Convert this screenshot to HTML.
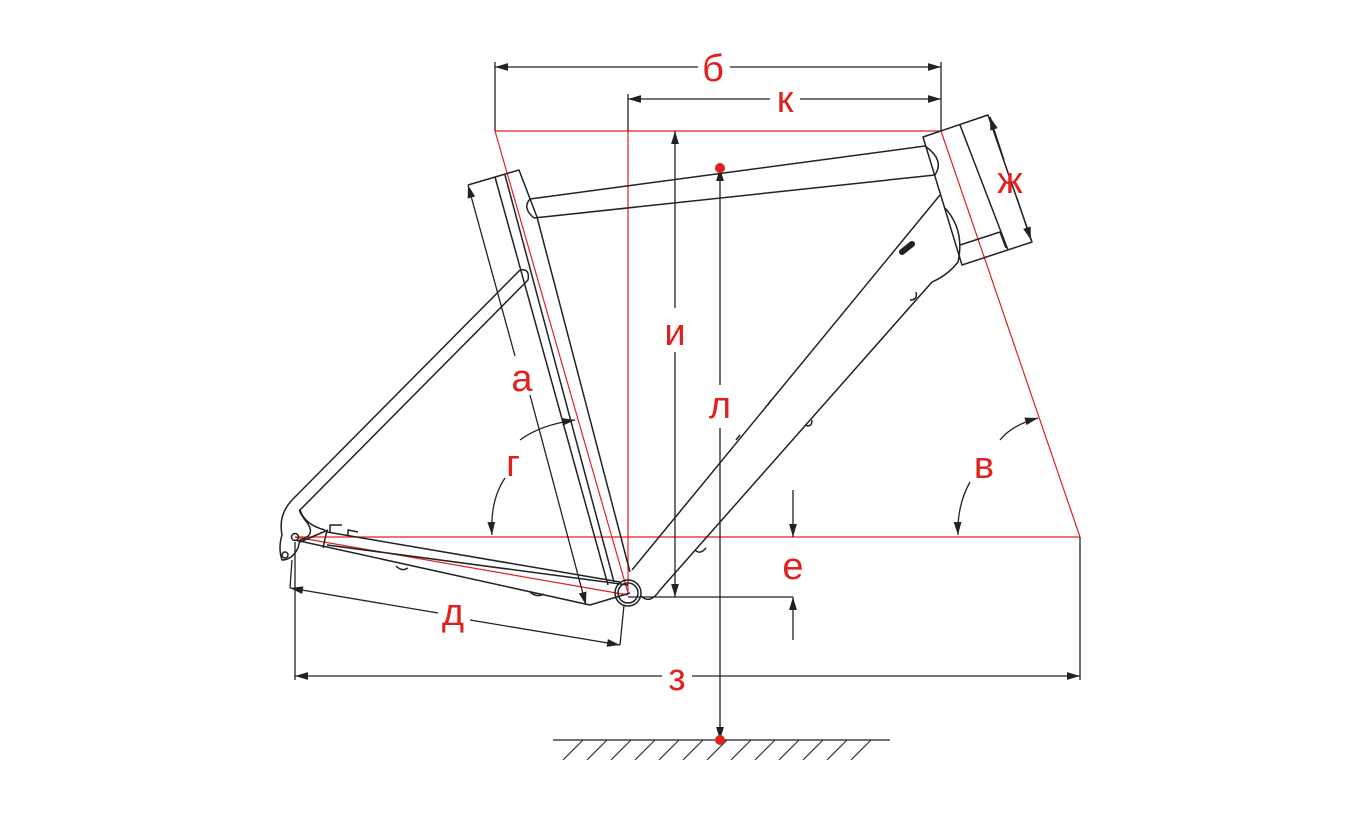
<!DOCTYPE html>
<html><head><meta charset="utf-8"><style>html,body{margin:0;padding:0;background:#fff}svg{display:block}</style></head><body>
<svg width="1360" height="827" viewBox="0 0 1360 827" xmlns="http://www.w3.org/2000/svg" font-family="Liberation Sans, DejaVu Sans, sans-serif">
<defs>
<marker id="a" viewBox="0 0 10 10" refX="10" refY="5" markerWidth="10" markerHeight="10" orient="auto-start-reverse"><path d="M0,2 L10,5 L0,8 z" fill="#222"/></marker>
</defs>
<g stroke="#e0221f" stroke-width="1.2" fill="none">
<line x1="495" y1="131" x2="941" y2="131"/>
<line x1="495" y1="131" x2="628" y2="593"/>
<line x1="628" y1="131" x2="628" y2="593"/>
<line x1="941" y1="131" x2="1080" y2="537"/>
<line x1="295" y1="537" x2="1080" y2="537"/>
<line x1="295" y1="537" x2="628" y2="595"/>
</g>
<g stroke="#222" stroke-width="1.5" fill="none" stroke-linejoin="round">
<polyline points="468,185 519,170 537,217 630,572"/>
<line x1="495" y1="177" x2="608" y2="585"/>
<line x1="505" y1="175" x2="614" y2="582"/>
<path d="M530,199 L925,146 M534,218 L935,175 M530,199 Q522,208 534,218"/>
<path d="M925,146 Q945,160 935,175"/>
<polygon points="923,137 988,115 1032,242 962,265"/>
<line x1="960" y1="125" x2="1008" y2="250"/>
<path d="M960,245 L1000,232 L1006,248"/>
<path d="M940,195 L632,570 M945,208 Q965,230 958,262 Q948,275 932,282 L660,590"/>
<path d="M902,252 L912,244" stroke-width="6" stroke-linecap="round"/>
<path d="M520,270 L292,500 M528,280 L300,510 M520,270 Q530,268 528,280"/>
<path d="M292,500 Q278,515 282,535 Q278,548 282,560 Q292,560 298,548 L300,540 Q318,535 305,520 Q298,510 300,510 M300,510 Q305,525 325,530"/>
<circle cx="295" cy="537" r="3.5"/>
<circle cx="285" cy="555" r="3"/>
<path d="M295,540 L590,605 L630,593 M327,545 L628,585 M327,530 L323,548 M300,542 L328,530"/>
<path d="M327,532 L620,582"/>
<path d="M330,532 L330,525 L342,525 M348,535 L348,530 L358,532"/>
<path d="M396,566 Q402,572 408,568 M530,592 Q537,598 544,594 M695,550 Q700,555 706,548 M805,425 Q812,428 812,420 M910,300 Q918,300 916,292 M736,440 L740,435 M768,405 L771,400"/>
<circle cx="628" cy="593" r="13"/>
<circle cx="628" cy="593" r="10"/>
<path d="M641,596 Q650,605 660,590"/>
</g>
<g stroke="#222" stroke-width="1.3" fill="none">
<line x1="495" y1="62" x2="495" y2="131"/>
<line x1="941" y1="62" x2="941" y2="131"/>
<line x1="628" y1="94" x2="628" y2="131"/>
<line x1="495" y1="67" x2="698" y2="67" marker-start="url(#a)"/>
<line x1="730" y1="67" x2="941" y2="67" marker-end="url(#a)"/>
<line x1="628" y1="99" x2="770" y2="99" marker-start="url(#a)"/>
<line x1="800" y1="99" x2="941" y2="99" marker-end="url(#a)"/>
<line x1="675" y1="131" x2="675" y2="308" marker-start="url(#a)"/>
<line x1="675" y1="352" x2="675" y2="597" marker-end="url(#a)"/>
<line x1="720" y1="168" x2="720" y2="385" marker-start="url(#a)"/>
<line x1="720" y1="428" x2="720" y2="740" marker-end="url(#a)"/>
<line x1="628" y1="597" x2="793" y2="597"/>
<line x1="793" y1="490" x2="793" y2="537" marker-end="url(#a)"/>
<line x1="793" y1="640" x2="793" y2="597" marker-end="url(#a)"/>
<line x1="295" y1="542" x2="295" y2="680"/>
<line x1="1080" y1="537" x2="1080" y2="680"/>
<line x1="295" y1="676" x2="662" y2="676" marker-start="url(#a)"/>
<line x1="692" y1="676" x2="1080" y2="676" marker-end="url(#a)"/>
<line x1="290" y1="588" x2="438" y2="613" marker-start="url(#a)"/>
<line x1="470" y1="620" x2="620" y2="645" marker-end="url(#a)"/>
<line x1="620" y1="645" x2="624" y2="605"/>
<line x1="290" y1="588" x2="292" y2="560"/>
<line x1="468" y1="185" x2="515" y2="356" marker-start="url(#a)"/>
<line x1="530" y1="395" x2="586" y2="605" marker-end="url(#a)"/>
<line x1="990" y1="117" x2="1004" y2="160" marker-start="url(#a)"/>
<line x1="1017" y1="198" x2="1031" y2="240" marker-end="url(#a)"/>
<path d="M575,420 Q540,425 520,440" marker-start="url(#a)"/>
<path d="M505,478 Q490,500 492,535" marker-end="url(#a)"/>
<path d="M1038,418 Q1012,425 1000,440" marker-start="url(#a)"/>
<path d="M970,482 Q957,505 958,535" marker-end="url(#a)"/>
<line x1="553" y1="740" x2="890" y2="740"/>
</g>
<g stroke="#222" stroke-width="1.1">
<path d="M563,760 L583,740 M587,760 L607,740 M611,760 L631,740 M635,760 L655,740 M659,760 L679,740 M683,760 L703,740 M707,760 L727,740 M731,760 L751,740 M755,760 L775,740 M779,760 L799,740 M803,760 L823,740 M827,760 L847,740 M851,760 L871,740"/>
</g>
<circle cx="720" cy="168" r="5" fill="#e0221f"/>
<circle cx="720" cy="740" r="5" fill="#e0221f"/>
<g fill="#e0221f" font-size="38" text-anchor="middle">
<text x="713" y="81">б</text>
<text x="785" y="112">к</text>
<text x="675" y="345">и</text>
<text x="720" y="418">л</text>
<text x="522" y="391">а</text>
<text x="513" y="476">г</text>
<text x="984" y="478">в</text>
<text x="793" y="579">е</text>
<text x="453" y="625">д</text>
<text x="677" y="690">з</text>
<text x="1010" y="193">ж</text>
</g>
</svg>
</body></html>
